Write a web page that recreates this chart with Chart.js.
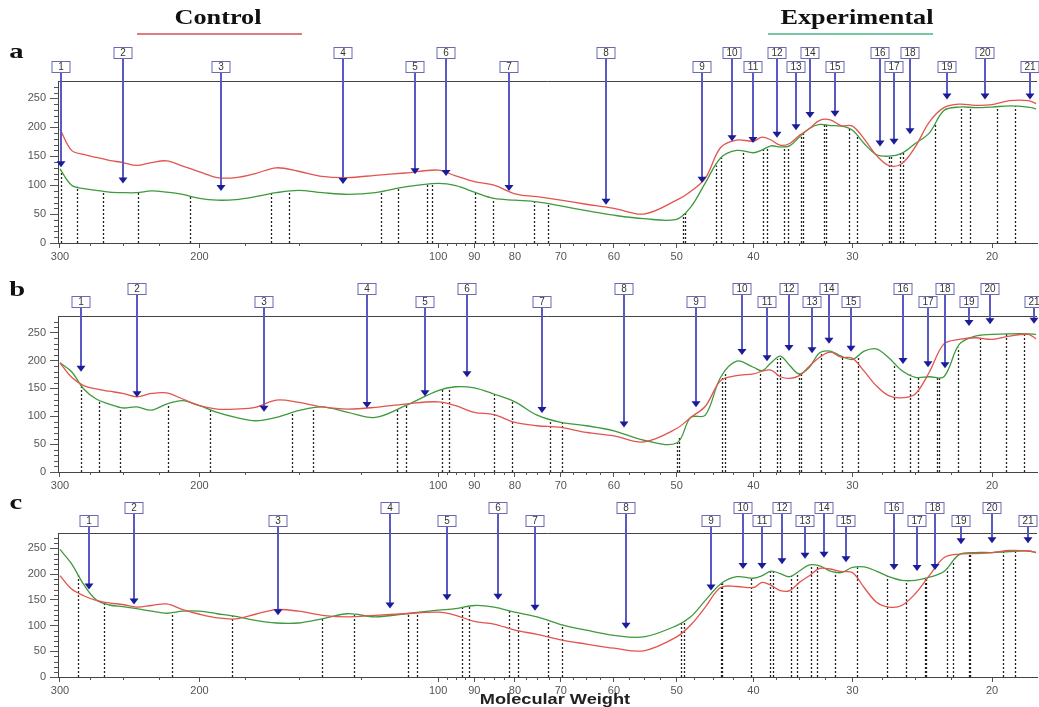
<!DOCTYPE html>
<html>
<head>
<meta charset="utf-8">
<script src="https://cdn.jsdelivr.net/npm/chart.js@4.4.1/dist/chart.umd.min.js"></script>
<style>
	html, body { margin: 0; padding: 0; background: #fff; }
	#page { position: relative; width: 1039px; height: 707px; overflow: hidden; }
	#page canvas { position: absolute; left: 0; }
	.title { position: absolute; width: 200px; text-align: center; font-family: 'Liberation Serif', serif; font-weight: bold; font-size: 21px; color: #111; transform: scaleX(1.25); z-index: 2; }
	.rule { position: absolute; height: 2px; top: 33px; width: 165px; z-index: 2; }
	.panel-letter { position: absolute; left: 11px; font-family: 'Liberation Serif', serif; font-weight: bold; font-size: 22px; color: #111; transform: scaleX(1.3); z-index: 2; }
	#xtitle { position: absolute; left: 455px; top: 691px; width: 200px; text-align: center; font-family: 'Liberation Sans', Arial, sans-serif; font-weight: bold; font-size: 14px; color: #222; transform: scaleX(1.3); z-index: 2; }
</style>
</head>
<body>
<div id="page">
	<canvas id="panel-a" width="1039" height="265" style="top:0px"></canvas>
	<canvas id="panel-b" width="1039" height="229" style="top:265px"></canvas>
	<canvas id="panel-c" width="1039" height="205" style="top:494px"></canvas>

	<div class="title" style="left:118px; top:5px;">Control</div>
	<div class="rule" style="left:137px; background:#e07c7c;"></div>
	<div class="title" style="left:757px; top:5px;">Experimental</div>
	<div class="rule" style="left:768px; background:#74c8a2;"></div>

	<div class="panel-letter" style="top:38px;">a</div>
	<div class="panel-letter" style="top:276px;">b</div>
	<div class="panel-letter" style="top:489px;">c</div>
	<div id="xtitle">Molecular Weight</div>
</div>

<script>
	// Molecular weight positions the traces are sampled at (kDa)
	var molecularWeights = [300, 290, 280, 270, 260, 250, 240, 230, 220, 210,
		200, 190, 180, 170, 160, 150, 140, 130, 120, 110,
		100, 95, 90, 85, 80, 75, 70, 65, 60, 55,
		50, 48, 46, 44, 42, 40, 39, 38, 37, 36,
		35, 34, 33, 32, 31, 30, 29, 28, 27, 26,
		25, 24, 23, 22, 21, 20, 19, 18, 17.6];

	// Panel a traces
	var controlA = [197, 160, 153, 148, 143, 139, 134, 139, 142, 133,
		123, 113, 113, 120, 130, 124, 115, 113, 117, 121,
		126, 116, 106, 100, 85, 80, 74, 67, 60, 50,
		74, 89, 112, 165, 178, 176, 183, 178, 169, 172,
		186, 198, 212, 213, 203, 202, 180, 152, 134, 137,
		166, 209, 234, 240, 238, 239, 246, 246, 241];
	var experimentalA = [128, 100, 94, 91, 88, 87, 87, 90, 88, 84,
		77, 74, 75, 80, 87, 91, 87, 84, 87, 97,
		103, 99, 88, 77, 74, 71, 64, 56, 48, 42,
		41, 62, 104, 147, 160, 156, 161, 168, 166, 168,
		183, 198, 205, 203, 202, 195, 172, 153, 150, 155,
		172, 190, 229, 235, 234, 235, 237, 235, 232];

	// Panel b traces
	var controlB = [196, 170, 155, 149, 145, 141, 135, 141, 142, 131,
		119, 113, 113, 116, 129, 125, 117, 113, 116, 122,
		126, 119, 107, 103, 89, 83, 80, 71, 65, 54,
		78, 98, 118, 164, 173, 176, 181, 183, 171, 168,
		173, 190, 206, 215, 206, 204, 181, 155, 137, 133,
		140, 179, 230, 238, 241, 238, 244, 247, 239];
	var experimentalB = [196, 180, 149, 131, 122, 115, 117, 111, 122, 128,
		119, 107, 98, 92, 98, 110, 117, 107, 98, 119,
		146, 153, 151, 140, 126, 102, 89, 83, 74, 57,
		52, 98, 102, 170, 199, 188, 182, 196, 208, 191,
		176, 188, 214, 217, 208, 202, 217, 221, 205, 182,
		170, 171, 171, 229, 244, 247, 248, 248, 247];

	// Panel c traces
	var controlC = [197, 171, 158, 149, 144, 141, 136, 139, 142, 131,
		122, 115, 113, 122, 131, 128, 120, 117, 120, 123,
		126, 120, 108, 103, 91, 83, 72, 64, 56, 51,
		78, 101, 136, 174, 176, 174, 184, 178, 168, 168,
		184, 197, 211, 210, 205, 203, 174, 146, 136, 139,
		162, 197, 232, 239, 240, 242, 246, 245, 242];
	var experimentalC = [248, 220, 180, 150, 140, 137, 133, 128, 124, 128,
		128, 123, 118, 110, 105, 105, 113, 123, 117, 123,
		130, 133, 139, 136, 126, 117, 102, 91, 81, 78,
		100, 117, 149, 181, 195, 192, 197, 206, 201, 195,
		206, 218, 216, 206, 203, 213, 214, 206, 195, 188,
		188, 194, 205, 238, 242, 242, 244, 245, 242];

	// Numbered band markers: MW of each arrow and the level its head points at
	var markersA = [299, 250, 188, 132, 107, 97.6, 81.3, 61.4, 46.4, 42.6, 40.1, 37.4, 35.3, 33.9, 31.6, 27.7, 26.6, 25.4, 22.8, 20.4, 17.9];
	var levelsA = [131, 103, 90, 102, 119, 116, 90, 66, 104, 176, 173, 182, 195, 216, 218, 167, 170, 188, 248, 248, 248];
	var markersB = [282, 240, 166, 123, 104, 92, 74, 58.3, 47.3, 41.3, 38.4, 36.1, 33.7, 32.1, 30.1, 25.9, 24.1, 22.9, 21.4, 20.1, 17.7];
	var levelsB = [180, 134, 108, 115, 136, 170, 106, 80, 116, 210, 199, 217, 213, 230, 216, 194, 188, 186, 262, 265, 266];
	var markersC = [276, 242, 159, 115, 97.5, 84, 75.4, 58, 45.2, 41.2, 39.0, 36.8, 34.4, 32.6, 30.6, 26.6, 24.9, 23.6, 21.9, 20.0, 18.0];
	var levelsC = [170, 141, 120, 133, 149, 150, 129, 94, 168, 210, 210, 219, 230, 232, 223, 208, 206, 208, 258, 260, 260];

	// Band boundaries (dotted drop lines), MW
	var boundariesA = [299, 285.6, 265, 239, 205.6, 162.3, 154.4, 118.2, 112.2, 103.3, 101.8, 89.8, 85.2, 75.7, 72.7,
		49.1, 48.8, 44.6, 43.9, 41.2, 38.9, 38.5, 36.6, 36.2, 34.8, 34.6, 32.6, 32.4, 30.3, 29.6,
		27.0, 26.85, 26.1, 25.9, 23.6, 21.9, 21.3, 19.7, 18.7];
	var boundariesB = [282, 267.5, 252, 219, 194, 153, 144, 112.6, 109.7, 98.8, 96.8, 84.9, 80.6, 72.2, 69.7,
		49.9, 49.6, 43.8, 43.5, 39.3, 37.4, 37.0, 35.0, 34.8, 32.9, 30.9, 29.5,
		26.6, 25.4, 24.8, 23.5, 23.3, 22.1, 20.7, 19.2, 18.2];
	var boundariesC = [284.6, 264.3, 216.5, 182, 140.2, 127.7, 109.2, 106.2, 93.2, 91.3, 81.3, 79.2, 72.6, 69.8,
		49.4, 48.9, 44.0, 43.8, 40.3, 38.1, 37.8, 35.9, 35.2, 33.8, 33.3, 31.6, 29.6,
		27.1, 25.7, 24.3, 24.2, 22.8, 22.4, 21.4, 21.3, 19.4, 18.7];

	// Axis ticks
	var xTickLabels = [300, 200, 100, 90, 80, 70, 60, 50, 40, 30, 20];
	var yTickLabels = [0, 50, 100, 150, 200, 250];

	var MW_MIN = 17.55;
	var MW_MAX = 301.7;
	var Y_MAX = 280;

	// Pair MW with trace values for the line datasets
	function toPoints(values) {
		return molecularWeights.map(function(mw, i) {
			return { x: mw, y: values[i] };
		});
	}

	// Level of a trace at a given MW, interpolated on the log axis
	function traceValueAt(values, mw) {
		for (var i = 0; i < molecularWeights.length - 1; i++) {
			var a = molecularWeights[i], b = molecularWeights[i + 1];
			if (mw <= a && mw >= b) {
				var t = (Math.log(a) - Math.log(mw)) / (Math.log(a) - Math.log(b));
				return values[i] + t * (values[i + 1] - values[i]);
			}
		}
		return values[values.length - 1];
	}

	// Frame line, minor ticks, dotted boundaries and numbered arrows
	function gelMarkupPlugin(panel) {
		return {
			id: 'gelMarkup',
			beforeDatasetsDraw: function(chart) {
				var ctx = chart.ctx;
				var xs = chart.scales.x, ys = chart.scales.y, area = chart.chartArea;
				ctx.save();

				// top frame line
				ctx.strokeStyle = '#444';
				ctx.lineWidth = 1;
				ctx.beginPath();
				ctx.moveTo(area.left, area.top + 0.5);
				ctx.lineTo(area.right, area.top + 0.5);
				ctx.stroke();

				// minor ticks on y
				ctx.strokeStyle = '#555';
				for (var v = 10; v < Y_MAX; v += 10) {
					if (v % 50 === 0) continue;
					var py = Math.round(ys.getPixelForValue(v)) + 0.5;
					ctx.beginPath();
					ctx.moveTo(area.left - 4, py);
					ctx.lineTo(area.left, py);
					ctx.stroke();
				}

				// minor ticks on x
				var minor = [275, 250, 225, 175, 150, 125];
				for (var m = 97.5; m >= MW_MIN; m -= 2.5) {
					if (m % 10 !== 0) minor.push(m);
				}
				minor.forEach(function(mw) {
					var px = Math.round(xs.getPixelForValue(mw)) + 0.5;
					ctx.beginPath();
					ctx.moveTo(px, area.bottom);
					ctx.lineTo(px, area.bottom + 3);
					ctx.stroke();
				});

				// dotted band boundaries, dropped from the experimental trace
				ctx.strokeStyle = '#222';
				ctx.lineWidth = 1.3;
				ctx.setLineDash([2, 2]);
				panel.boundaries.forEach(function(mw) {
					var px = Math.round(xs.getPixelForValue(mw)) + 0.5;
					var top = ys.getPixelForValue(traceValueAt(panel.experimental, mw));
					ctx.beginPath();
					ctx.moveTo(px, ys.getPixelForValue(0));
					ctx.lineTo(px, top);
					ctx.stroke();
				});
				ctx.restore();
			},
			afterDatasetsDraw: function(chart) {
				var ctx = chart.ctx;
				var xs = chart.scales.x, ys = chart.scales.y, area = chart.chartArea;
				ctx.save();
				ctx.font = '10px "Liberation Sans", Arial, sans-serif';
				ctx.textAlign = 'center';
				ctx.textBaseline = 'middle';

				panel.markers.forEach(function(mw, i) {
					var px = Math.round(xs.getPixelForValue(mw));
					var tip = ys.getPixelForValue(panel.levels[i]);
					// even numbers sit on the upper row
					var boxMid = area.top - ((i % 2 === 1) ? panel.upperRow : panel.lowerRow);
					var boxW = 19, boxH = 12;

					ctx.strokeStyle = '#5a5ac4';
					ctx.lineWidth = 2;
					ctx.beginPath();
					ctx.moveTo(px, boxMid + boxH / 2);
					ctx.lineTo(px, tip - 5);
					ctx.stroke();

					ctx.fillStyle = '#1c1c9a';
					ctx.beginPath();
					ctx.moveTo(px - 4.5, tip - 6);
					ctx.lineTo(px + 4.5, tip - 6);
					ctx.lineTo(px, tip);
					ctx.closePath();
					ctx.fill();

					ctx.fillStyle = '#fff';
					ctx.fillRect(px - boxW / 2, boxMid - boxH / 2, boxW, boxH);
					ctx.strokeStyle = '#6a6ab4';
					ctx.lineWidth = 1;
					ctx.strokeRect(px - boxW / 2 + 0.5, boxMid - boxH / 2 + 0.5, boxW - 1, boxH - 1);
					ctx.fillStyle = '#333';
					ctx.fillText(String(i + 1), px, boxMid + 0.5);
				});
				ctx.restore();
			}
		};
	}

	// Build one densitometry panel
	function drawPanel(canvasId, panel) {
		var canvas = document.getElementById(canvasId);
		return new Chart(canvas, {
			type: 'line',
			data: {
				datasets: [
					{ label: 'Control', data: toPoints(panel.control), borderColor: '#e2544e', borderWidth: 1.3, pointRadius: 0, tension: 0.35, fill: false },
					{ label: 'Experimental', data: toPoints(panel.experimental), borderColor: '#3d9a3d', borderWidth: 1.3, pointRadius: 0, tension: 0.35, fill: false }
				]
			},
			options: {
				responsive: false,
				devicePixelRatio: 1,
				animation: false,
				events: [],
				layout: { padding: { top: panel.padTop, right: 2, left: 0, bottom: 0 } },
				plugins: { legend: { display: false }, tooltip: { enabled: false } },
				scales: {
					x: {
						type: 'logarithmic',
						reverse: true,
						min: MW_MIN,
						max: MW_MAX,
						afterBuildTicks: function(scale) {
							scale.ticks = xTickLabels.map(function(v) { return { value: v }; });
						},
						afterFit: function(scale) { scale.height = 22; },
						ticks: {
							autoSkip: false,
							maxRotation: 0,
							padding: 2,
							color: '#555',
							font: { family: '"Liberation Sans", Arial, sans-serif', size: 11 },
							callback: function(v) { return String(v); }
						},
						grid: { drawOnChartArea: false, tickLength: 5, color: '#555' },
						border: { color: '#444', width: 1 }
					},
					y: {
						min: 0,
						max: Y_MAX,
						afterBuildTicks: function(scale) {
							scale.ticks = yTickLabels.map(function(v) { return { value: v }; });
						},
						afterFit: function(scale) { scale.width = 58; },
						ticks: {
							padding: 4,
							color: '#555',
							font: { family: '"Liberation Sans", Arial, sans-serif', size: 11 }
						},
						grid: { drawOnChartArea: false, tickLength: 8, color: '#555' },
						border: { color: '#444', width: 1 }
					}
				}
			},
			plugins: [gelMarkupPlugin(panel)]
		});
	}

	drawPanel('panel-a', {
		control: controlA, experimental: experimentalA,
		markers: markersA, levels: levelsA, boundaries: boundariesA,
		padTop: 81, lowerRow: 14, upperRow: 28
	});
	drawPanel('panel-b', {
		control: controlB, experimental: experimentalB,
		markers: markersB, levels: levelsB, boundaries: boundariesB,
		padTop: 51, lowerRow: 14, upperRow: 27
	});
	drawPanel('panel-c', {
		control: controlC, experimental: experimentalC,
		markers: markersC, levels: levelsC, boundaries: boundariesC,
		padTop: 39, lowerRow: 12, upperRow: 25
	});
</script>
</body>
</html>
